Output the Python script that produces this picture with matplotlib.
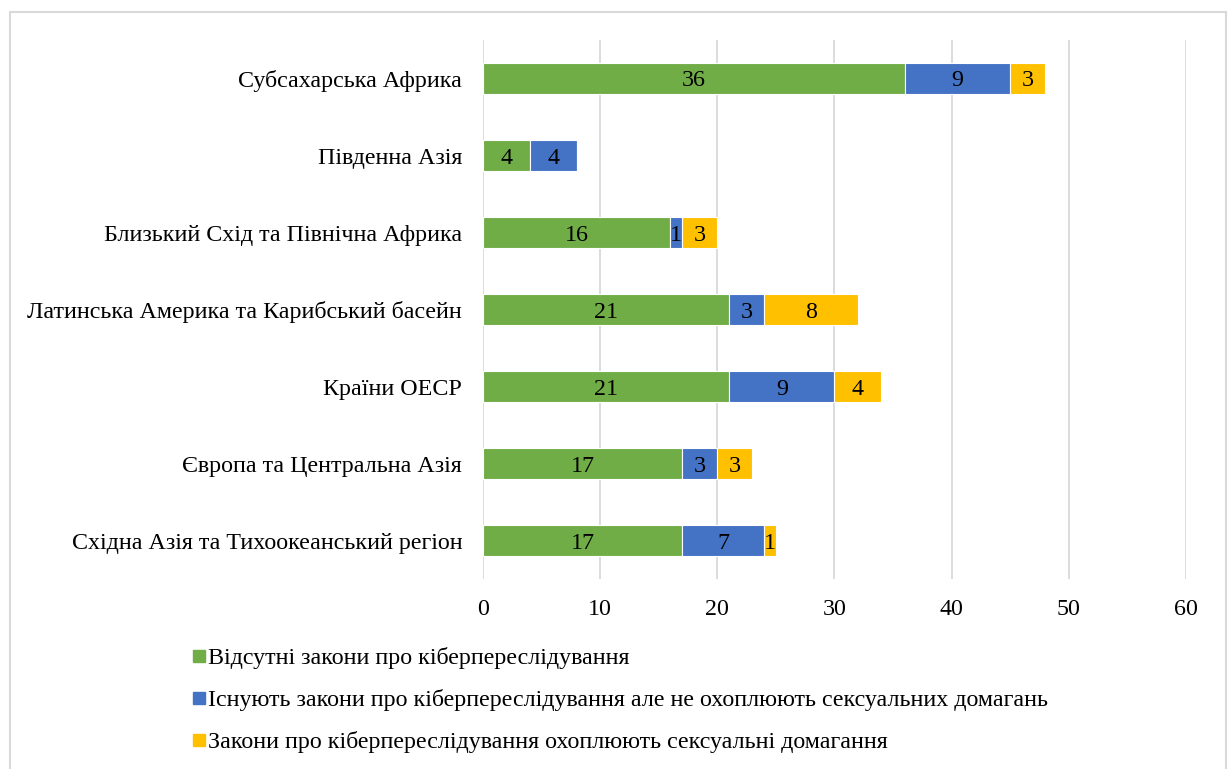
import matplotlib.pyplot as plt
from matplotlib.patches import Rectangle
from matplotlib.lines import Line2D

plt.rcParams['font.family'] = ['Liberation Serif', 'DejaVu Serif']

regions = [
    'Субсахарська Африка',
    'Південна Азія',
    'Близький Схід та Північна Африка',
    'Латинська Америка та Карибський басейн',
    'Країни ОЕСР',
    'Європа та Центральна Азія',
    'Східна Азія та Тихоокеанський регіон',
]
no_laws = [36, 4, 16, 21, 21, 17, 17]
laws_no_harassment = [9, 4, 1, 3, 9, 3, 7]
laws_harassment = [3, 0, 3, 8, 4, 3, 1]

series_names = [
    'Відсутні закони про кіберпереслідування',
    'Існують закони про кіберпереслідування але не охоплюють сексуальних домагань',
    'Закони про кіберпереслідування охоплюють сексуальні домагання',
]
colors = ['#70AD47', '#4472C4', '#FFC000']

fig = plt.figure(figsize=(12.29, 7.69), dpi=100)
ax = fig.add_axes([0.393, 0.247, 0.572, 0.701])

# reversed so the first region is on top
y = list(range(len(regions)))[::-1]
left = [0] * len(regions)
for vals, color in zip([no_laws, laws_no_harassment, laws_harassment], colors):
    bars = ax.barh(y, vals, left=left, height=0.4, color=color,
                   edgecolor='white', linewidth=0.8, zorder=3)
    for b, v in zip(bars, vals):
        if v:
            ax.text(b.get_x() + b.get_width() / 2, b.get_y() + b.get_height() / 2,
                    str(v), ha='center', va='center_baseline', fontsize=17.3, zorder=4)
    left = [l + v for l, v in zip(left, vals)]

ax.set_xlim(0, 60)
ax.set_ylim(-0.5, len(regions) - 0.5)
ax.set_xticks(range(0, 61, 10))
ax.set_yticks(y)
ax.set_yticklabels(regions)
ax.tick_params(axis='both', length=0, labelsize=17.3)
ax.tick_params(axis='x', pad=14)
ax.tick_params(axis='y', pad=15)
ax.grid(axis='x', color='#D9D9D9', linewidth=1.3, zorder=0)
for s in ax.spines.values():
    s.set_visible(False)

handles = [Line2D([], [], marker='s', linestyle='', markersize=8.8,
                  markerfacecolor=c, markeredgecolor=c) for c in colors]
fig.legend(handles, series_names, loc='upper left', bbox_to_anchor=(0.145, 0.174),
           frameon=False, fontsize=17.3, handletextpad=0.05, handlelength=0.7,
           labelspacing=0.83, borderpad=0)

# outer chart border
fig.add_artist(Rectangle((10 / 1229, -0.01), 1216 / 1229, 1 - 12 / 769 + 0.01,
                         transform=fig.transFigure, fill=False,
                         edgecolor='#D9D9D9', linewidth=1.5))

fig.savefig('out.png', dpi=100)
